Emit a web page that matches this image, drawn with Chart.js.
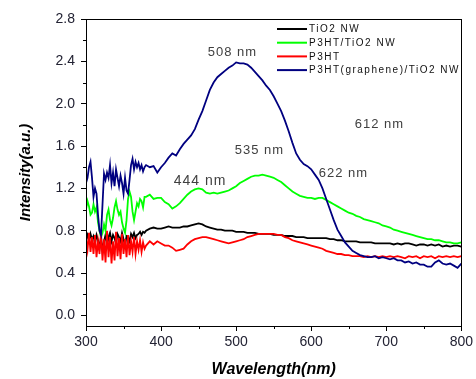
<!DOCTYPE html>
<html><head><meta charset="utf-8">
<script src="https://cdn.jsdelivr.net/npm/chart.js@4/dist/chart.umd.min.js"></script>
<style>html,body{margin:0;padding:0;background:#fff}</style>
</head><body>
<canvas id="c" width="476" height="379" style="display:block;width:476px;height:379px"></canvas>
<script>
// ---------- data ----------
const WAVELENGTH = [
 300,302,304,306,308,310,312,314,316,318,
 320,322,324,326,328,330,332,334,336,338,
 340,342,344,346,348,350,352,354,356,358,
 360,362,364,366,368,370,372,374,376,378,
 380,385,390,395,400,405,410,415,420,425,
 430,435,440,445,450,455,460,465,470,475,
 480,485,490,495,500,505,510,515,520,525,
 530,535,540,545,550,555,560,565,570,575,
 580,585,590,595,600,605,610,615,620,625,
 630,635,640,645,650,655,660,665,670,675,
 680,685,690,695,700,705,710,715,720,725,
 730,735,740,745,750,755,760,765,770,775,
 780,785,790,795,800];

const TIO2_NW = [
 0.72,0.76,0.70,0.77,0.72,0.75,0.68,0.76,0.71,0.63,
 0.74,0.60,0.70,0.76,0.66,0.74,0.78,0.70,0.76,0.73,
 0.68,0.77,0.74,0.70,0.78,0.72,0.66,0.75,0.74,0.70,
 0.77,0.74,0.78,0.73,0.76,0.77,0.79,0.76,0.79,0.78,
 0.80,0.82,0.83,0.82,0.82,0.83,0.84,0.83,0.83,0.83,
 0.84,0.84,0.85,0.86,0.87,0.86,0.84,0.83,0.82,0.81,
 0.81,0.80,0.80,0.80,0.79,0.79,0.79,0.78,0.78,0.78,
 0.77,0.77,0.77,0.77,0.76,0.76,0.76,0.75,0.75,0.75,
 0.74,0.74,0.74,0.73,0.73,0.73,0.73,0.73,0.73,0.72,
 0.72,0.71,0.71,0.70,0.70,0.70,0.70,0.69,0.69,0.69,
 0.69,0.68,0.68,0.68,0.68,0.68,0.67,0.68,0.67,0.68,
 0.68,0.67,0.66,0.67,0.67,0.66,0.67,0.66,0.67,0.65,
 0.66,0.65,0.66,0.66,0.65];

const P3HT_TIO2_NW = [
 1.00,1.08,1.03,0.95,0.97,1.05,0.98,1.02,0.88,0.80,
 0.74,0.78,0.86,0.80,0.95,1.00,0.90,0.85,0.92,1.02,
 1.08,1.00,0.95,0.98,0.88,0.82,0.78,0.90,1.10,1.17,
 1.12,0.98,0.90,0.98,1.06,1.03,1.10,1.08,1.02,1.12,
 1.12,1.14,1.10,1.11,1.11,1.07,1.05,1.01,1.03,1.06,
 1.10,1.14,1.17,1.19,1.20,1.19,1.16,1.15,1.16,1.15,
 1.16,1.17,1.18,1.20,1.22,1.25,1.27,1.29,1.31,1.32,
 1.32,1.33,1.32,1.31,1.30,1.28,1.26,1.23,1.20,1.17,
 1.15,1.13,1.12,1.11,1.11,1.10,1.11,1.11,1.09,1.07,
 1.05,1.03,1.01,0.99,0.97,0.96,0.94,0.93,0.91,0.90,
 0.89,0.88,0.87,0.85,0.84,0.83,0.81,0.80,0.79,0.78,
 0.77,0.76,0.75,0.74,0.73,0.72,0.72,0.71,0.71,0.70,
 0.69,0.69,0.68,0.68,0.69];

const P3HT = [
 0.72,0.62,0.78,0.60,0.74,0.58,0.76,0.55,0.70,0.58,
 0.78,0.52,0.72,0.50,0.80,0.55,0.74,0.49,0.70,0.52,
 0.79,0.56,0.73,0.53,0.77,0.58,0.72,0.55,0.76,0.57,
 0.70,0.60,0.74,0.58,0.70,0.62,0.71,0.60,0.69,0.63,
 0.66,0.70,0.67,0.70,0.68,0.66,0.66,0.64,0.61,0.62,
 0.63,0.67,0.70,0.72,0.73,0.74,0.74,0.73,0.72,0.71,
 0.70,0.69,0.68,0.69,0.70,0.71,0.72,0.74,0.75,0.76,
 0.77,0.77,0.77,0.77,0.77,0.76,0.76,0.74,0.73,0.71,
 0.70,0.69,0.68,0.67,0.66,0.65,0.64,0.63,0.61,0.60,
 0.59,0.58,0.58,0.57,0.57,0.56,0.56,0.56,0.55,0.56,
 0.55,0.56,0.55,0.56,0.55,0.56,0.55,0.56,0.55,0.54,
 0.56,0.55,0.56,0.54,0.56,0.55,0.56,0.54,0.56,0.55,
 0.56,0.55,0.56,0.55,0.56];

const P3HT_GRAPHENE_TIO2_NW = [
 1.25,1.30,1.40,1.45,1.30,1.12,1.20,1.15,0.95,0.80,
 0.76,1.05,1.34,1.28,1.35,1.30,1.42,1.25,1.35,1.22,
 1.38,1.30,1.22,1.32,1.25,1.15,1.30,1.18,1.15,1.28,
 1.42,1.48,1.38,1.45,1.40,1.44,1.38,1.42,1.36,1.40,
 1.42,1.40,1.41,1.35,1.40,1.44,1.49,1.53,1.51,1.57,
 1.62,1.66,1.70,1.76,1.85,1.93,2.03,2.13,2.20,2.25,
 2.28,2.31,2.34,2.36,2.39,2.38,2.38,2.37,2.34,2.30,
 2.26,2.22,2.17,2.13,2.07,2.00,1.93,1.84,1.74,1.63,
 1.53,1.47,1.43,1.41,1.38,1.33,1.28,1.20,1.10,1.00,
 0.90,0.81,0.75,0.69,0.65,0.61,0.59,0.57,0.56,0.55,
 0.55,0.56,0.54,0.55,0.54,0.53,0.54,0.52,0.52,0.50,
 0.51,0.49,0.50,0.48,0.48,0.46,0.46,0.50,0.52,0.49,
 0.48,0.49,0.47,0.45,0.49];

const SERIES_LABELS = ['TiO2 NW','P3HT/TiO2 NW','P3HT','P3HT(graphene)/TiO2 NW'];
const SERIES_VALUES = [TIO2_NW, P3HT_TIO2_NW, P3HT, P3HT_GRAPHENE_TIO2_NW];

const X_TICKS = [300,400,500,600,700,800];
const Y_TICKS = [0.0,0.4,0.8,1.2,1.6,2.0,2.4,2.8];

const PEAK_LABELS = ['508 nm','535 nm','444 nm','622 nm','612 nm'];
const PEAK_WL     = [495, 531, 452, 643, 691];
const PEAK_VAL    = [2.48, 1.56, 1.27, 1.34, 1.80];

// ---------- styles ----------
const COLORS = ['#000000','#00ff00','#ff0000','#000080'];
const ORDERS = [3,2,1,0];
const PEAK_SIZES = [13,13,14,13,13];

const datasets = SERIES_VALUES.map((vals,i)=>({
  label: SERIES_LABELS[i],
  data: WAVELENGTH.map((w,j)=>({x:w,y:vals[j]})),
  borderColor: COLORS[i],
  borderWidth: 1.8,
  pointRadius: 0,
  tension: 0,
  fill: false,
  order: ORDERS[i]
}));

const framePlugin = {
  id:'frame',
  afterDraw(chart){
    const {ctx, chartArea:a, scales} = chart;
    ctx.save();
    ctx.strokeStyle='#000'; ctx.lineWidth=1;
    ctx.strokeRect(Math.round(a.left)+0.5, Math.round(a.top)+0.5, Math.round(a.right-a.left), Math.round(a.bottom-a.top));
    // minor ticks halfway between major ticks
    ctx.beginPath();
    for (let i=0;i<X_TICKS.length-1;i++){
      const px = Math.round(scales.x.getPixelForValue((X_TICKS[i]+X_TICKS[i+1])/2))+0.5;
      ctx.moveTo(px, a.bottom); ctx.lineTo(px, a.bottom+3);
    }
    for (let i=0;i<Y_TICKS.length-1;i++){
      const py = Math.round(scales.y.getPixelForValue((Y_TICKS[i]+Y_TICKS[i+1])/2))+0.5;
      ctx.moveTo(a.left, py); ctx.lineTo(a.left-3, py);
    }
    ctx.stroke();
    // peak annotations
    ctx.fillStyle='#404040';
    ctx.textAlign='center'; ctx.textBaseline='middle';
    try{ ctx.letterSpacing='1px'; }catch(e){}
    PEAK_LABELS.forEach((t,i)=>{
      ctx.font = PEAK_SIZES[i]+'px Arial';
      ctx.fillText(t, scales.x.getPixelForValue(PEAK_WL[i]), scales.y.getPixelForValue(PEAK_VAL[i]));
    });
    // legend
    ctx.textAlign='left';
    ctx.font='10px Arial';
    try{ ctx.letterSpacing='1.5px'; }catch(e){}
    ctx.fillStyle='#111';
    SERIES_LABELS.forEach((t,i)=>{
      const y = 29 + i*13.7;
      ctx.strokeStyle=COLORS[i]; ctx.lineWidth=2;
      ctx.beginPath(); ctx.moveTo(277,y); ctx.lineTo(307,y); ctx.stroke();
      ctx.fillText(t, 309, y+0.5);
    });
    ctx.restore();
  }
};

new Chart(document.getElementById('c'), {
  type:'line',
  data:{datasets},
  options:{
    responsive:false, animation:false, devicePixelRatio:1,
    layout:{padding:{top:19,right:11,left:0,bottom:0}},
    plugins:{legend:{display:false}, tooltip:{enabled:false}},
    scales:{
      x:{
        type:'linear', min:300, max:800,
        afterBuildTicks:s=>{s.ticks = X_TICKS.map(v=>({value:v}));},
        afterFit:s=>{s.height=53;},
        grid:{drawOnChartArea:false, color:'#000', tickLength:5},
        border:{color:'#000', width:1},
        ticks:{font:{size:14,family:'Arial'}, color:'#222233', padding:3, maxRotation:0, callback:v=>String(v)},
        title:{display:true, text:'Wavelength(nm)', color:'#000', font:{size:16,weight:'bold',style:'italic',family:'Arial'}, padding:{top:0,bottom:0}}
      },
      y:{
        type:'linear', min:-0.1, max:2.8,
        afterBuildTicks:s=>{s.ticks = Y_TICKS.map(v=>({value:v}));},
        afterFit:s=>{s.width=86;},
        grid:{drawOnChartArea:false, color:'#000', tickLength:5},
        border:{color:'#000', width:1},
        ticks:{font:{size:14,family:'Arial'}, color:'#222233', padding:6, callback:v=>Number(v).toFixed(1)},
        title:{display:true, text:'Intensity(a.u.)', color:'#000', font:{size:15,weight:'bold',style:'italic',family:'Arial'}, padding:{top:17,bottom:0}}
      }
    }
  },
  plugins:[framePlugin]
});
</script>
</body></html>
